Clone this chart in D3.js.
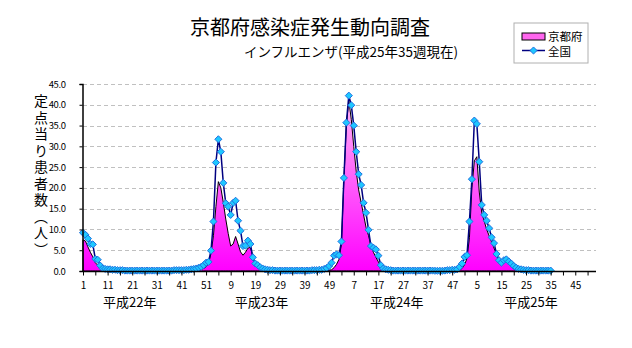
<!DOCTYPE html>
<html>
<head>
  <meta charset="utf-8">
  <title>京都府感染症発生動向調査</title>
  <script src="https://cdn.jsdelivr.net/npm/d3@7"></script>
  <style>
    body { margin: 0; background: #fff; }
    text { font-family: "Noto Sans CJK JP", "Noto Sans", sans-serif; fill: #000; }
  </style>
</head>
<body>
  <div id="chart"></div>
<script>
  // weekly values per year (平成22..25)
  const years = ["平成22年", "平成23年", "平成24年", "平成25年"];
  const weeksPerYear = 52;

  const nat22 = [9.2,8.7,7.8,6.5,6.4,2.9,2.7,1.3,0.6,0.5, 0.4,0.4,0.3,0.3,0.2,0.2,0.2,0.1,0.1,0.1,
                 0.1,0.1,0.1,0.1,0.1,0.1,0.1,0.1,0.1,0.1, 0.1,0.1,0.1,0.1,0.1,0.1,0.1,0.2,0.2,0.2,
                 0.2,0.2,0.3,0.3,0.4,0.5,0.6,0.8,1.0,1.4, 2.0,2.2];
  const nat23 = [4.9,11.9,26.1,31.7,28.7,21.2,16.3,15.5,13.5,16.4, 16.9,12.1,9.7,6.0,6.1,7.3,6.5,3.3,1.8,1.4,
                 0.9,0.6,0.4,0.3,0.2,0.2,0.1,0.1,0.1,0.1, 0.1,0.1,0.1,0.1,0.1,0.1,0.1,0.1,0.1,0.1,
                 0.1,0.2,0.2,0.2,0.3,0.3,0.5,0.7,1.2,2.0, 3.7,4.0];
  const nat24 = [3.8,7.1,22.4,35.7,42.2,39.9,35.0,28.7,23.3,20.7, 16.4,14.0,9.9,6.0,5.6,5.2,3.7,1.4,0.6,0.4,
                 0.3,0.2,0.1,0.1,0.1,0.1,0.1,0.1,0.1,0.1, 0.1,0.1,0.1,0.1,0.1,0.1,0.1,0.1,0.1,0.05,
                 0.05,0.05,0.05,0.1,0.2,0.2,0.3,0.3,0.4,1.0, 1.8,3.4];
  const nat25 = [3.8,11.9,22.1,36.2,35.4,26.3,15.9,13.5,12.1,10.3, 8.1,6.7,4.1,2.6,2.0,2.6,2.8,2.3,1.8,1.2,
                 0.8,0.5,0.4,0.3,0.2,0.2,0.1,0.1,0.1,0.1, 0.1,0.1,0.1,0.1,0.1];

  const kyo22 = [7.5,7.2,5.8,4.5,3.4,2.0,1.4,1.0,0.5,0.3, 0.2,0.2,0.1,0.1,0.1,0.1,0.1,0,0,0,
                 0,0,0,0,0,0,0,0,0,0, 0,0,0,0,0,0,0,0,0,0.1,
                 0.1,0.1,0.1,0.1,0.1,0.2,0.2,0.3,0.4,0.6, 1.0,1.8];
  const kyo23 = [4.2,8.5,15.5,21.5,20.0,16.5,12.5,9.0,6.0,6.5, 8.3,6.5,4.6,3.8,4.5,5.5,5.7,3.5,1.5,0.8,
                 0.5,0.3,0.2,0.1,0.1,0.1,0,0,0,0, 0,0,0,0,0,0,0,0,0,0,
                 0,0.1,0.1,0.1,0.1,0.1,0.1,0.1,0.2,0.3, 0.8,1.6];
  const kyo24 = [2.8,6.5,22.0,35.0,41.0,36.5,30.0,24.0,19.5,16.5, 13.5,10.5,8.5,6.0,4.5,3.3,2.2,1.2,0.6,0.3,
                 0.2,0.1,0.1,0,0,0,0,0,0,0, 0,0,0,0,0,0,0,0,0,0,
                 0,0,0,0,0,0.1,0.1,0.1,0.2,0.3, 0.6,1.5];
  const kyo25 = [3.0,8.0,20.0,26.5,27.5,19.0,14.0,12.0,10.0,8.5, 7.0,5.5,4.0,3.0,2.5,3.2,3.0,2.0,1.2,0.7,
                 0.4,0.3,0.2,0.1,0.1,0.1,0,0,0,0, 0,0,0,0,0];

  const yTicks = [0, 5, 10, 15, 20, 25, 30, 35, 40, 45];
  // year labels sit under the axis, centred at these week indexes
  const yearLabelAt = [19, 72.5, 127.5, 182];

  const national = [].concat(nat22, nat23, nat24, nat25);
  const kyoto = [].concat(kyo22, kyo23, kyo24, kyo25);

  const W = 632, H = 348;
  const margin = {top: 84, right: 39, bottom: 77, left: 83};

  const svg = d3.select("#chart").append("svg")
    .attr("width", W).attr("height", H);

  // categories: every week of the four years
  const idx = d3.range(years.length * weeksPerYear);
  const x = d3.scalePoint()
    .domain(idx)
    .range([margin.left, W - margin.right - 0.5]);
  const y = d3.scaleLinear()
    .domain([0, 45])
    .range([H - margin.bottom, margin.top]);

  // gradient for the 京都府 area
  const grad = svg.append("defs").append("linearGradient")
    .attr("id", "pink")
    .attr("gradientUnits", "userSpaceOnUse")
    .attr("x1", 0).attr("x2", 0)
    .attr("y1", y(45)).attr("y2", y(0));
  grad.append("stop").attr("offset", "0%").attr("stop-color", "#ffc4f6");
  grad.append("stop").attr("offset", "100%").attr("stop-color", "#ff00ff");

  // dashed grid lines
  svg.append("g")
    .selectAll("line")
    .data(yTicks.filter(d => d > 0))
    .join("line")
      .attr("x1", margin.left).attr("x2", W - margin.right + 3)
      .attr("y1", d => Math.round(y(d)) + 0.5).attr("y2", d => Math.round(y(d)) + 0.5)
      .attr("stroke", "#c0c0c0")
      .attr("stroke-dasharray", "4,3");

  // 京都府 area
  const area = d3.area()
    .x((d, i) => x(i))
    .y0(y(0))
    .y1(d => y(d));
  svg.append("path")
    .datum(kyoto)
    .attr("d", area)
    .attr("fill", "url(#pink)")
    .attr("stroke", "#000")
    .attr("stroke-width", 1);

  // 全国 line
  const line = d3.line()
    .x((d, i) => x(i))
    .y(d => y(d));
  svg.append("path")
    .datum(national)
    .attr("d", line)
    .attr("fill", "none")
    .attr("stroke", "#000080")
    .attr("stroke-width", 1.5);

  const diamond = d3.symbol().type(d3.symbolDiamond2).size(32);
  svg.append("g")
    .selectAll("path")
    .data(national)
    .join("path")
      .attr("d", diamond)
      .attr("transform", (d, i) => "translate(" + x(i) + "," + y(d) + ")")
      .attr("fill", "#1ec8ff")
      .attr("stroke", "#2070e0")
      .attr("stroke-width", 1);

  // y axis
  const yAxis = svg.append("g")
    .attr("transform", "translate(" + (margin.left - 0.5) + ",0)")
    .call(d3.axisLeft(y).tickValues(yTicks).tickFormat(d3.format(".1f")).tickSize(3).tickPadding(14));
  yAxis.select(".domain").attr("stroke", "#000").attr("stroke-width", 1.5);
  yAxis.selectAll("text").style("font-size", "9.5px").style("letter-spacing", "-0.4px");

  // x axis: ticks every 5 weeks, labels every 10
  const xAxis = svg.append("g")
    .attr("transform", "translate(0," + (y(0) + 0.5) + ")")
    .call(d3.axisBottom(x)
      .tickValues(idx.filter(i => i % 5 === 0))
      .tickSize(4)
      .tickPadding(6)
      .tickFormat(i => i % 10 === 0 ? (i % weeksPerYear) + 1 : ""));
  xAxis.select(".domain").attr("stroke", "#000").attr("stroke-width", 1.5)
    .attr("d", "M" + margin.left + ",0H" + (W - margin.right + 3));
  xAxis.selectAll("text").style("font-size", "10px");

  // year labels
  svg.append("g")
    .selectAll("text")
    .data(years)
    .join("text")
      .attr("x", (d, i) => x(0) + yearLabelAt[i] * x.step())
      .attr("y", 307)
      .attr("text-anchor", "middle")
      .style("font-size", "13px")
      .text(d => d);

  // y axis title, written vertically
  svg.append("text")
    .attr("x", 41)
    .attr("y", 94)
    .style("writing-mode", "vertical-rl")
    .style("font-size", "14px")
    .style("letter-spacing", "2.5px")
    .text("定点当り患者数（人）");

  // titles
  svg.append("text")
    .attr("x", 310).attr("y", 35)
    .attr("text-anchor", "middle")
    .style("font-size", "20px")
    .text("京都府感染症発生動向調査");
  svg.append("text")
    .attr("x", 351).attr("y", 57)
    .attr("text-anchor", "middle")
    .style("font-size", "13.5px")
    .text("インフルエンザ(平成25年35週現在)");

  // legend
  const lg = svg.append("g").attr("transform", "translate(514,23)");
  lg.append("rect")
    .attr("width", 74).attr("height", 40)
    .attr("fill", "#fff").attr("stroke", "#b0b0b0");
  lg.append("rect")
    .attr("x", 8).attr("y", 10).attr("width", 23).attr("height", 7)
    .attr("fill", "#ff66ee").attr("stroke", "#000");
  lg.append("line")
    .attr("x1", 8).attr("x2", 31).attr("y1", 27.5).attr("y2", 27.5)
    .attr("stroke", "#000080").attr("stroke-width", 1.5);
  lg.append("path")
    .attr("d", diamond)
    .attr("transform", "translate(19.5,27.5)")
    .attr("fill", "#1ec8ff").attr("stroke", "#2070e0");
  lg.selectAll("text.lab")
    .data(["京都府", "全国"])
    .join("text")
      .attr("class", "lab")
      .attr("x", 34)
      .attr("y", (d, i) => 17.5 + i * 15.5)
      .style("font-size", "11.5px")
      .text(d => d);
</script>
</body>
</html>
